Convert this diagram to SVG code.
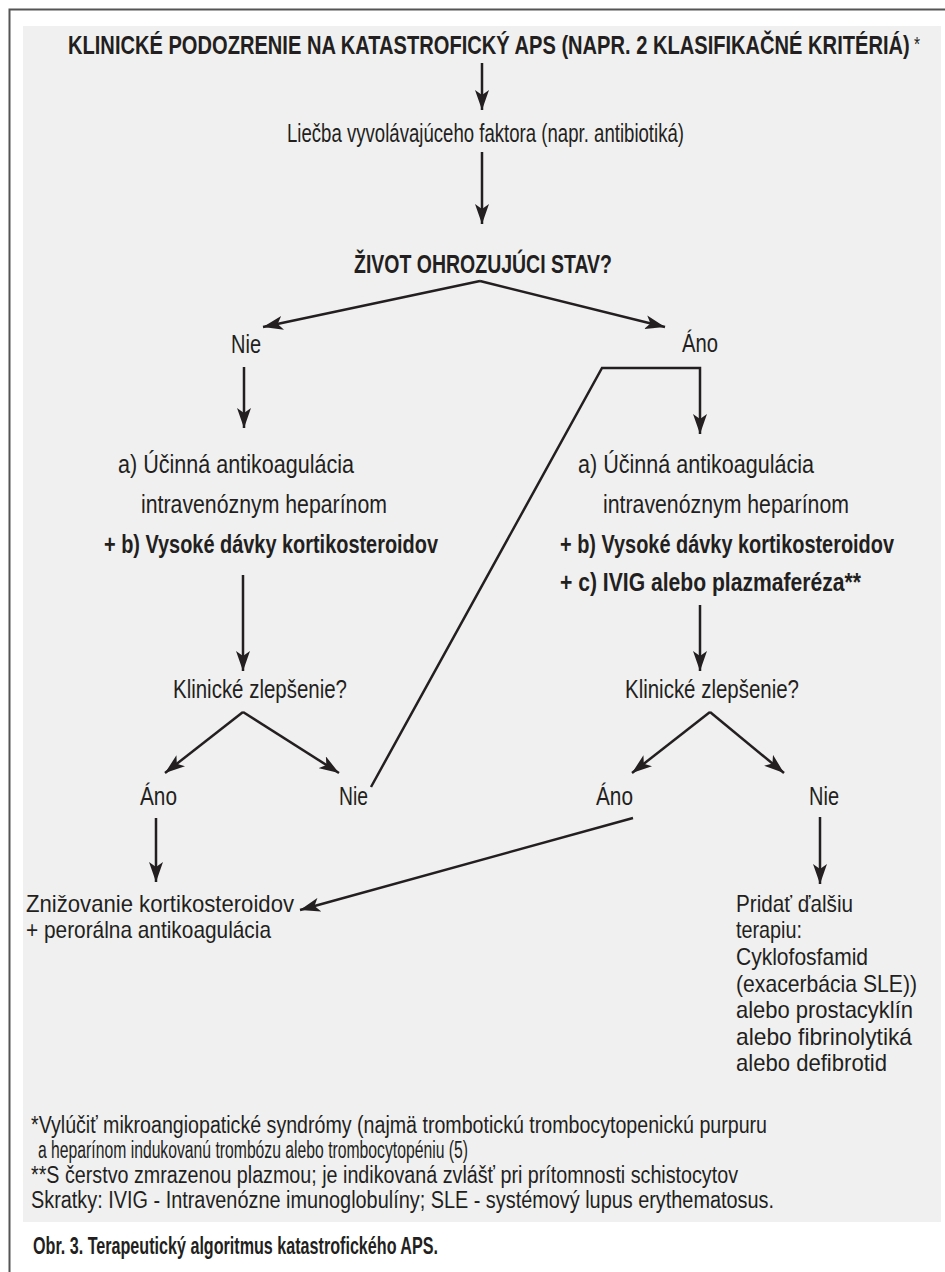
<svg xmlns="http://www.w3.org/2000/svg" width="945" height="1272" viewBox="0 0 945 1272">
<defs>
<marker id="ah" viewBox="0 0 20 14" refX="20" refY="7" markerWidth="20" markerHeight="14" markerUnits="userSpaceOnUse" orient="auto">
<path d="M0,0 L20,7 L0,14 L5,7 Z" fill="#231f20"/>
</marker>
<style>
.t{font-family:"Liberation Sans",Arial,sans-serif;fill:#231f20}
.h{font-size:26px}
.f{font-size:25px}
.b{font-weight:bold}
.s{font-size:24px}
.n{font-size:23px}
.c{stroke:#231f20;stroke-width:2.5;fill:none}
.a{marker-end:url(#ah)}
</style>
</defs>
<rect x="0" y="0" width="945" height="1272" fill="#ffffff"/>
<path d="M9.5,1272 V9.5 H945" fill="none" stroke="#555" stroke-width="2"/>
<rect x="23" y="26" width="918" height="1196" fill="#f0f0f0"/>

<g id="connectors">
<line class="c a" x1="482" y1="63" x2="482" y2="110"/>
<line class="c a" x1="482" y1="152" x2="482" y2="224"/>
<line class="c a" x1="480" y1="281" x2="263" y2="327"/>
<line class="c a" x1="480" y1="281" x2="665" y2="327"/>
<line class="c a" x1="244" y1="367" x2="244" y2="428"/>
<polyline class="c a" points="371,787 602,368 700,368 700,434"/>
<line class="c a" x1="243" y1="575" x2="243" y2="671"/>
<line class="c a" x1="700" y1="605" x2="700" y2="671"/>
<line class="c a" x1="243" y1="712" x2="165" y2="773"/>
<line class="c a" x1="243" y1="712" x2="339" y2="773"/>
<line class="c a" x1="710" y1="712" x2="632" y2="773"/>
<line class="c a" x1="710" y1="712" x2="784" y2="773"/>
<line class="c a" x1="156" y1="818" x2="156" y2="882"/>
<line class="c a" x1="633" y1="818" x2="300" y2="910"/>
<line class="c a" x1="820" y1="817" x2="820" y2="884"/>
</g>

<g id="n-suspicion">
<text class="t h b" x="68" y="54" textLength="852" lengthAdjust="spacingAndGlyphs">KLINICKÉ PODOZRENIE NA KATASTROFICKÝ APS (NAPR. 2 KLASIFIKAČNÉ KRITÉRIÁ)<tspan font-weight="normal" font-size="20" dy="-3"> *</tspan></text>
</g>
<g id="n-treatment">
<text class="t h" x="287" y="142" textLength="397" lengthAdjust="spacingAndGlyphs">Liečba vyvolávajúceho faktora (napr. antibiotiká)</text>
</g>
<g id="n-lifethreat">
<text class="t h b" x="354" y="273" textLength="258" lengthAdjust="spacingAndGlyphs">ŽIVOT OHROZUJÚCI STAV?</text>
</g>
<g id="n-nie1">
<text class="t h" x="231" y="353" textLength="30" lengthAdjust="spacingAndGlyphs">Nie</text>
</g>
<g id="n-ano1">
<text class="t h" x="682" y="352" textLength="36" lengthAdjust="spacingAndGlyphs">Áno</text>
</g>
<g id="n-therapy-left">
<text class="t f" x="118" y="473" textLength="236" lengthAdjust="spacingAndGlyphs">a) Účinná antikoagulácia</text>
<text class="t f" x="141" y="513" textLength="246" lengthAdjust="spacingAndGlyphs">intravenóznym heparínom</text>
<text class="t f b" x="104" y="553" textLength="334" lengthAdjust="spacingAndGlyphs">+ b) Vysoké dávky kortikosteroidov</text>
</g>
<g id="n-therapy-right">
<text class="t f" x="578" y="473" textLength="236" lengthAdjust="spacingAndGlyphs">a) Účinná antikoagulácia</text>
<text class="t f" x="603" y="513" textLength="246" lengthAdjust="spacingAndGlyphs">intravenóznym heparínom</text>
<text class="t f b" x="560" y="553" textLength="334" lengthAdjust="spacingAndGlyphs">+ b) Vysoké dávky kortikosteroidov</text>
<text class="t f b" x="560" y="591" textLength="301" lengthAdjust="spacingAndGlyphs">+ c) IVIG alebo plazmaferéza**</text>
</g>
<g id="n-improve-left">
<text class="t h" x="173" y="698" textLength="174" lengthAdjust="spacingAndGlyphs">Klinické zlepšenie?</text>
</g>
<g id="n-improve-right">
<text class="t h" x="625" y="698" textLength="174" lengthAdjust="spacingAndGlyphs">Klinické zlepšenie?</text>
</g>
<g id="n-ano2">
<text class="t h" x="140" y="805" textLength="37" lengthAdjust="spacingAndGlyphs">Áno</text>
</g>
<g id="n-nie2">
<text class="t h" x="339" y="805" textLength="29" lengthAdjust="spacingAndGlyphs">Nie</text>
</g>
<g id="n-ano3">
<text class="t h" x="596" y="805" textLength="37" lengthAdjust="spacingAndGlyphs">Áno</text>
</g>
<g id="n-nie3">
<text class="t h" x="809" y="805" textLength="30" lengthAdjust="spacingAndGlyphs">Nie</text>
</g>
<g id="n-taper">
<text class="t s" x="26" y="912" textLength="268" lengthAdjust="spacingAndGlyphs">Znižovanie kortikosteroidov</text>
<text class="t s" x="26" y="938" textLength="245" lengthAdjust="spacingAndGlyphs">+ perorálna antikoagulácia</text>
</g>
<g id="n-additional">
<text class="t s" x="736" y="912" textLength="117" lengthAdjust="spacingAndGlyphs">Pridať ďalšiu</text>
<text class="t s" x="736" y="938" textLength="66" lengthAdjust="spacingAndGlyphs">terapiu:</text>
<text class="t s" x="736" y="965" textLength="132" lengthAdjust="spacingAndGlyphs">Cyklofosfamid</text>
<text class="t s" x="736" y="992" textLength="181" lengthAdjust="spacingAndGlyphs">(exacerbácia SLE))</text>
<text class="t s" x="736" y="1018" textLength="177" lengthAdjust="spacingAndGlyphs">alebo prostacyklín</text>
<text class="t s" x="736" y="1045" textLength="176" lengthAdjust="spacingAndGlyphs">alebo fibrinolytiká</text>
<text class="t s" x="736" y="1071" textLength="151" lengthAdjust="spacingAndGlyphs">alebo defibrotid</text>
</g>
<g id="footnotes">
<text class="t n" x="31" y="1133" textLength="736" lengthAdjust="spacingAndGlyphs">*Vylúčiť mikroangiopatické syndrómy (najmä trombotickú trombocytopenickú purpuru</text>
<text class="t n" x="38" y="1158" textLength="430" lengthAdjust="spacingAndGlyphs">a heparínom indukovanú trombózu alebo trombocytopéniu (5)</text>
<text class="t n" x="31" y="1183" textLength="707" lengthAdjust="spacingAndGlyphs">**S čerstvo zmrazenou plazmou; je indikovaná zvlášť pri prítomnosti schistocytov</text>
<text class="t n" x="31" y="1208" textLength="743" lengthAdjust="spacingAndGlyphs">Skratky: IVIG - Intravenózne imunoglobulíny; SLE - systémový lupus erythematosus.</text>
</g>
<g id="caption">
<text class="t b" x="33" y="1254" font-size="23" textLength="405" lengthAdjust="spacingAndGlyphs">Obr. 3. Terapeutický algoritmus katastrofického APS.</text>
</g>
</svg>
